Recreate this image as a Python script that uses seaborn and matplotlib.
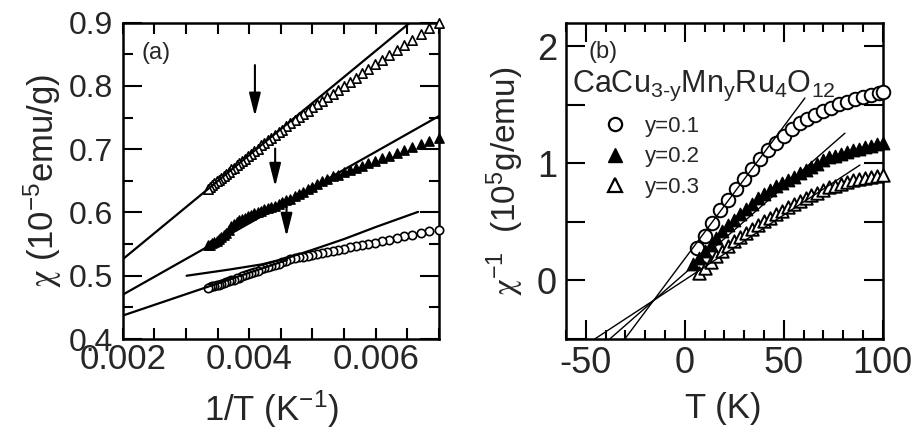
import numpy as np
import pandas as pd
import matplotlib
matplotlib.use("Agg")
import matplotlib.pyplot as plt
import seaborn as sns
from matplotlib.ticker import MultipleLocator, FixedLocator, FormatStrFormatter
from matplotlib.lines import Line2D

# ---------------- data: panel (a)  chi vs 1/T ----------------
T_left = [143, 146, 149, 152, 155, 158, 161, 164, 167, 170, 173, 176, 179, 182,
          185, 188, 191, 194, 197, 200, 203, 206, 209, 212, 215, 218, 221, 224,
          227, 230, 233, 236, 239, 242, 245, 248, 251, 254, 257, 260, 263, 266,
          269, 272, 275, 278, 281, 284, 287, 290, 293, 296, 299]
chi_y01 = [0.5725, 0.570, 0.567, 0.565, 0.563, 0.560, 0.557, 0.555, 0.552, 0.550,
           0.549, 0.547, 0.545, 0.543, 0.541, 0.539, 0.538, 0.536, 0.535, 0.533,
           0.531, 0.530, 0.529, 0.528, 0.527, 0.524, 0.521, 0.519, 0.517, 0.516,
           0.514, 0.512, 0.510, 0.508, 0.506, 0.505, 0.503, 0.501, 0.499, 0.497,
           0.496, 0.494, 0.493, 0.491, 0.490, 0.488, 0.487, 0.486, 0.485, 0.484,
           0.483, 0.482, 0.480]
chi_y02 = [0.717, 0.713, 0.709, 0.704, 0.699, 0.694, 0.689, 0.686, 0.682, 0.678,
           0.674, 0.671, 0.667, 0.664, 0.660, 0.657, 0.653, 0.649, 0.645, 0.641,
           0.637, 0.633, 0.629, 0.626, 0.622, 0.619, 0.616, 0.614, 0.611, 0.609,
           0.607, 0.605, 0.603, 0.601, 0.599, 0.596, 0.594, 0.592, 0.590, 0.588,
           0.585, 0.582, 0.578, 0.572, 0.568, 0.565, 0.561, 0.558, 0.555, 0.553,
           0.551, 0.549, 0.548]
chi_y03 = [0.900, 0.891, 0.882, 0.873, 0.865, 0.857, 0.849, 0.841, 0.834, 0.827,
           0.820, 0.813, 0.806, 0.800, 0.794, 0.788, 0.782, 0.776, 0.771, 0.766,
           0.761, 0.756, 0.751, 0.746, 0.741, 0.736, 0.731, 0.727, 0.722, 0.718,
           0.714, 0.710, 0.706, 0.701, 0.697, 0.693, 0.689, 0.685, 0.682, 0.678,
           0.675, 0.671, 0.668, 0.664, 0.661, 0.658, 0.655, 0.652, 0.649, 0.646,
           0.643, 0.640, 0.637]

# fit lines, panel (a)
fit_a03_x = [0.002, 0.00654]
fit_a03_y = [0.526, 0.900]
fit_a02_x = [0.002, 0.007]
fit_a02_y = [0.470, 0.7525]
fit_a01_x = [0.002, 0.0046]
fit_a01_y = [0.437, 0.525]
fit_a01b_x = [0.00301, 0.0037, 0.0042, 0.0046, 0.0050, 0.0055, 0.0060, 0.00667]
fit_a01b_y = [0.500, 0.510, 0.518, 0.528, 0.541, 0.558, 0.577, 0.601]

# arrows, panel (a)
arrow_x = [0.00409, 0.00441, 0.00459]
arrow_top = [0.833, 0.701, 0.609]
arrow_tip = [0.752, 0.641, 0.562]

# ---------------- data: panel (b)  1/chi vs T ----------------
T_b01 = [6, 10, 14, 18, 22, 26, 30, 34, 38, 42, 46, 50, 54, 58, 62, 66, 70, 74,
         78, 82, 86, 90, 94, 98, 100]
inv_b01 = [0.28, 0.38, 0.49, 0.60, 0.69, 0.78, 0.865, 0.955, 1.035, 1.11, 1.175,
           1.235, 1.29, 1.34, 1.375, 1.41, 1.445, 1.475, 1.505, 1.525, 1.545,
           1.565, 1.585, 1.598, 1.605]
T_b02 = [4, 7, 10, 13, 16, 19, 22, 25, 28, 31, 34, 37, 40, 43, 46, 49, 52, 55,
         58, 61, 64, 67, 70, 73, 76, 79, 82, 85, 88, 91, 94, 97, 100]
inv_b02 = [0.14, 0.195, 0.25, 0.305, 0.36, 0.42, 0.47, 0.52, 0.565, 0.61, 0.655,
           0.70, 0.74, 0.775, 0.805, 0.835, 0.86, 0.885, 0.915, 0.94, 0.97, 0.995,
           1.025, 1.05, 1.065, 1.08, 1.095, 1.11, 1.125, 1.14, 1.15, 1.165, 1.177]
T_b03 = [7, 10, 13, 16, 19, 22, 25, 28, 31, 34, 37, 40, 43, 46, 49, 52, 55, 58,
         61, 64, 67, 70, 73, 76, 79, 82, 85, 88, 91, 94, 97, 100]
inv_b03 = [0.065, 0.11, 0.16, 0.205, 0.25, 0.295, 0.335, 0.37, 0.405, 0.44, 0.475,
           0.505, 0.535, 0.565, 0.595, 0.625, 0.655, 0.68, 0.705, 0.73, 0.75,
           0.775, 0.795, 0.81, 0.825, 0.84, 0.855, 0.868, 0.878, 0.887, 0.894, 0.90]

fit_b01_T = [-30.3, 60.7]
fit_b01_y = [-0.5, 1.557]
fit_b02_T = [-37.9, 80.9]
fit_b02_y = [-0.5, 1.257]
fit_b03_T = [-45.5, 88.5]
fit_b03_y = [-0.5, 0.985]

legend_labels = ["y=0.1", "y=0.2", "y=0.3"]

# ---------------- style ----------------
sns.set_theme(style="ticks")
plt.rcParams["font.family"] = ["Liberation Sans", "DejaVu Sans"]
plt.rcParams["mathtext.fontset"] = "custom"
plt.rcParams["mathtext.rm"] = "Liberation Sans"
plt.rcParams["mathtext.it"] = "Liberation Sans:italic"
plt.rcParams["mathtext.bf"] = "Liberation Sans:bold"
plt.rcParams["mathtext.sf"] = "STIXGeneral"
plt.rcParams["axes.unicode_minus"] = False

fig = plt.figure(figsize=(9.18, 4.29), dpi=100)
axL = fig.add_axes([0.13366, 0.20979, 0.34455, 0.7373])
axR = fig.add_axes([0.61656, 0.20979, 0.345, 0.7373])

invT = 1.0 / np.array(T_left, dtype=float)
dfa = pd.DataFrame({"invT": invT, "y01": chi_y01, "y02": chi_y02, "y03": chi_y03})

# panel (a) markers
sns.scatterplot(data=dfa, x="invT", y="y01", ax=axL, marker="o", s=36,
                facecolor="white", edgecolor="black", linewidth=1.2,
                clip_on=False, zorder=3)
sns.scatterplot(data=dfa, x="invT", y="y02", ax=axL, marker="^", s=45,
                facecolor="black", edgecolor="black", linewidth=1.0,
                clip_on=False, zorder=3)
sns.scatterplot(data=dfa, x="invT", y="y03", ax=axL, marker="^", s=45,
                facecolor="white", edgecolor="black", linewidth=1.2,
                clip_on=False, zorder=3)

for fx, fy in [(fit_a03_x, fit_a03_y), (fit_a02_x, fit_a02_y),
               (fit_a01_x, fit_a01_y), (fit_a01b_x, fit_a01b_y)]:
    sns.lineplot(x=fx, y=fy, ax=axL, color="black", lw=1.6, sort=False,
                 estimator=None, zorder=4)

for xa, yt, yb in zip(arrow_x, arrow_top, arrow_tip):
    axL.annotate("", xy=(xa, yb), xytext=(xa, yt),
                 arrowprops=dict(arrowstyle="-|>,head_length=1.4,head_width=0.35",
                                 color="black", lw=1.5, shrinkA=0, shrinkB=0,
                                 mutation_scale=10), zorder=5)

axL.set_xlim(0.002, 0.007)
axL.set_ylim(0.4, 0.9)
axL.xaxis.set_major_locator(FixedLocator([0.002, 0.004, 0.006]))
axL.xaxis.set_minor_locator(MultipleLocator(0.0005))
axL.xaxis.set_major_formatter(FormatStrFormatter("%.3f"))
axL.yaxis.set_major_locator(MultipleLocator(0.1))
axL.yaxis.set_minor_locator(MultipleLocator(0.05))
axL.yaxis.set_major_formatter(FormatStrFormatter("%.1f"))
axL.tick_params(which="both", direction="in", top=True, right=True,
                width=1.5, color="black")
axL.tick_params(axis="x", which="both", length=8, labelsize=25, pad=3)
axL.tick_params(axis="y", which="major", length=14, labelsize=23, pad=7)
axL.tick_params(axis="y", which="minor", length=7)
axL.set_xlabel(r"1/T (K$^{\mathregular{-1}}$)", fontsize=25)
axL.set_ylabel(r"$\mathsf{\chi}$ (10$^{\mathregular{-5}}$emu/g)", fontsize=25)
axL.xaxis.set_label_coords(0.47, -0.221)
axL.xaxis.label.set_va("center")
axL.yaxis.set_label_coords(-0.252, 0.5)
axL.yaxis.label.set_va("center")
axL.text(0.06, 0.903, "(a)", transform=axL.transAxes, fontsize=17,
         ha="left", va="center")

# panel (b)
sns.scatterplot(x=T_b01, y=inv_b01, ax=axR, marker="o", s=95,
                facecolor="white", edgecolor="black", linewidth=1.4,
                clip_on=False, zorder=3)
sns.scatterplot(x=T_b02, y=inv_b02, ax=axR, marker="^", s=80,
                facecolor="black", edgecolor="black", linewidth=1.0,
                clip_on=False, zorder=3)
sns.scatterplot(x=T_b03, y=inv_b03, ax=axR, marker="^", s=80,
                facecolor="white", edgecolor="black", linewidth=1.4,
                clip_on=False, zorder=3)
for fx, fy in [(fit_b01_T, fit_b01_y), (fit_b02_T, fit_b02_y),
               (fit_b03_T, fit_b03_y)]:
    sns.lineplot(x=fx, y=fy, ax=axR, color="black", lw=1.0, sort=False,
                 estimator=None, zorder=4)

axR.set_xlim(-60, 100)
axR.set_ylim(-0.5, 2.2)
axR.xaxis.set_major_locator(MultipleLocator(50))
axR.xaxis.set_minor_locator(MultipleLocator(10))
axR.yaxis.set_major_locator(MultipleLocator(1))
axR.yaxis.set_minor_locator(MultipleLocator(0.5))
axR.xaxis.set_major_formatter(FormatStrFormatter("%d"))
axR.yaxis.set_major_formatter(FormatStrFormatter("%d"))
axR.tick_params(which="both", direction="in", top=True, right=True,
                width=1.5, color="black")
axR.tick_params(axis="x", which="major", length=14, labelsize=26, pad=5)
axR.tick_params(axis="x", which="minor", length=6.5)
axR.tick_params(axis="y", which="both", length=14, labelsize=26, pad=6.5)
axR.set_xlabel("T (K)", fontsize=25)
axR.set_ylabel(r"$\mathsf{\chi}^{\mathregular{-1}}$  (10$^{\mathregular{5}}$g/emu)", fontsize=24)
axR.xaxis.set_label_coords(0.497, -0.219)
axR.xaxis.label.set_va("center")
axR.yaxis.set_label_coords(-0.193, 0.5)
axR.yaxis.label.set_va("center")
axR.text(0.0705, 0.906, "(b)", transform=axR.transAxes, fontsize=17,
         ha="left", va="center")
axR.text(0.018, 0.782,
         r"CaCu$_{\mathregular{3\text{-}y}}$Mn$_{\mathregular{y}}$Ru$_{\mathregular{4}}$O$_{\mathregular{12}}$",
         transform=axR.transAxes, fontsize=22, ha="left", va="baseline")

handles = [
    Line2D([], [], ls="none", marker="o", ms=9.5, mfc="white", mec="black", mew=1.6),
    Line2D([], [], ls="none", marker="^", ms=9.5, mfc="black", mec="black", mew=1.0),
    Line2D([], [], ls="none", marker="^", ms=9.5, mfc="white", mec="black", mew=1.6),
]
axR.legend(handles, legend_labels, loc="upper left", bbox_to_anchor=(0.12, 0.705),
           frameon=False, fontsize=16, handlelength=1.0, handletextpad=0.85,
           labelspacing=0.42, borderpad=0, borderaxespad=0)

for ax in (axL, axR):
    for sp in ax.spines.values():
        sp.set_linewidth(1.8)
        sp.set_color("black")
    ax.grid(False)

fig.savefig("out.png", dpi=100)
